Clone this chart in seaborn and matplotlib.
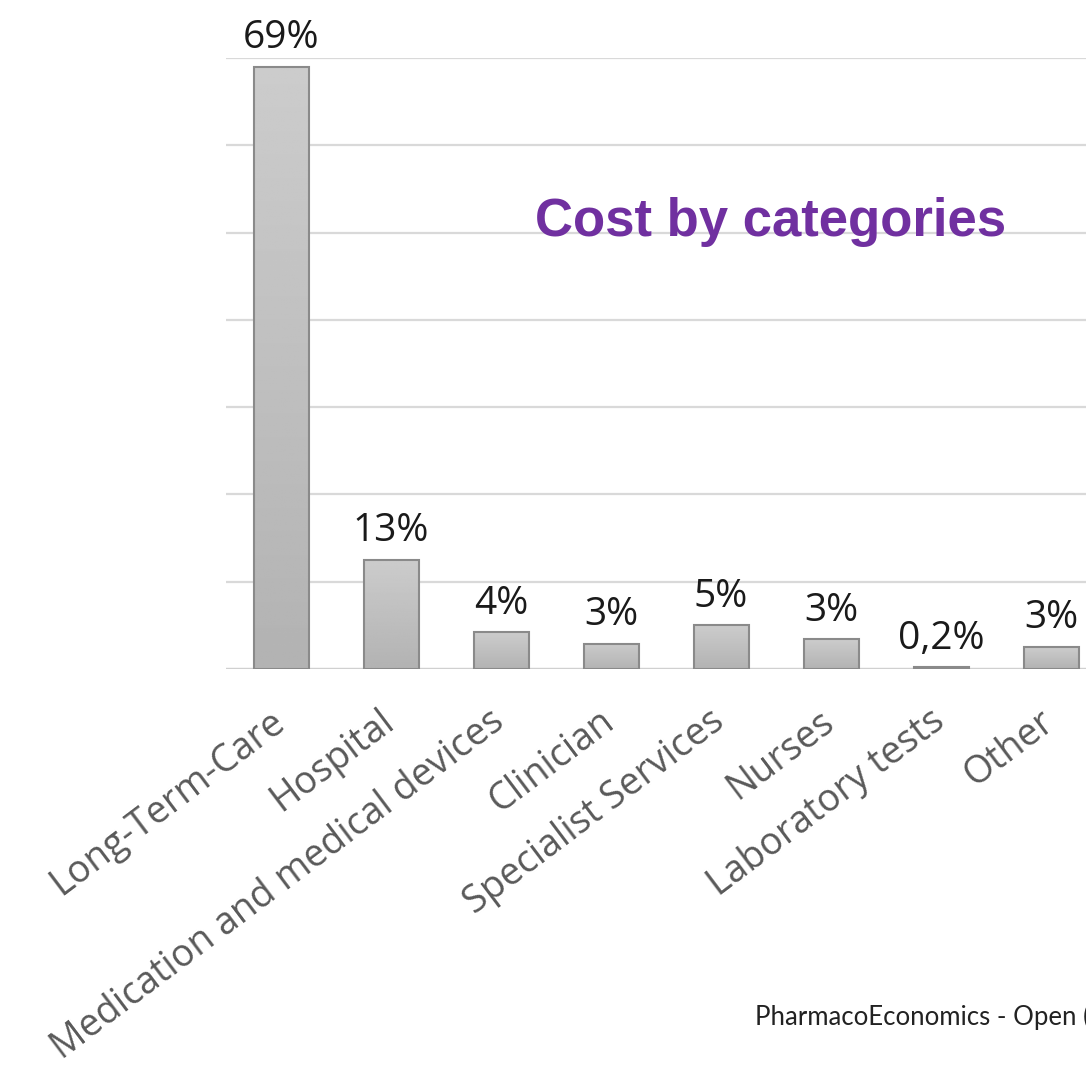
import matplotlib
matplotlib.use("Agg")
import matplotlib.pyplot as plt
import matplotlib.transforms as mtransforms
import seaborn as sns
import pandas as pd
import numpy as np

categories = ["Long-Term-Care", "Hospital", "Medication and medical devices", "Clinician",
              "Specialist Services", "Nurses", "Laboratory tests", "Other"]
values = [69.0, 12.5, 4.2, 2.9, 5.0, 3.4, 0.2, 2.5]
labels = ["69%", "13%", "4%", "3%", "5%", "3%", "0,2%", "3%"]
grid_ticks = [0, 10, 20, 30, 40, 50, 60, 70]

df = pd.DataFrame({"category": categories, "value": values})

sns.set_theme(style="white")
plt.rcParams["font.family"] = ["Open Sans", "DejaVu Sans"]

fig = plt.figure(figsize=(10.86, 10.72), dpi=100)
ax = fig.add_axes([226 / 1086, 1 - 669 / 1072, 880 / 1086, (669 - 58) / 1072])

sns.barplot(data=df, x="category", y="value", color="#c4c4c4", width=0.5,
            edgecolor="#8a8a8a", linewidth=1.5, saturation=1, ax=ax, zorder=3)

# vertical gradient fill inside bars
grad = np.linspace(0.80, 0.70, 256).reshape(-1, 1)
for p in ax.patches:
    x0, y0 = p.get_x(), p.get_y()
    w, h = p.get_width(), p.get_height()
    im = ax.imshow(grad, cmap="gray", vmin=0, vmax=1, aspect="auto",
                   extent=[x0, x0 + w, y0, y0 + h], origin="upper", zorder=3.5)
    im.set_clip_path(p)
    p.set_facecolor("none")
    p.set_zorder(4)

ax.set_xlim(-0.5, 7.5)
ax.set_ylim(0, 70)
ax.set_yticks(grid_ticks)
ax.set_yticklabels([])
ax.tick_params(axis="y", length=0)
ax.tick_params(axis="x", length=0, pad=24)
ax.yaxis.grid(True, color="#d9d9d9", linewidth=1.6, zorder=0)
ax.set_axisbelow(True)
for s in ax.spines.values():
    s.set_visible(False)
ax.axhline(0, color="#d0d0d0", linewidth=1.6, zorder=2)
ax.set_xlabel("")
ax.set_ylabel("")

ax.set_xticks(range(len(categories)))
ax.set_xticklabels(categories, rotation=37, ha="right", rotation_mode="anchor",
                   fontsize=27, color="#595959")
shift = mtransforms.ScaledTranslation(-12 / 100, 0, fig.dpi_scale_trans)
for t in ax.get_xticklabels():
    t.set_transform(t.get_transform() + shift)

for i, (v, lab) in enumerate(zip(values, labels)):
    ax.annotate(lab, (i, v), xytext=(0, 7), textcoords="offset points",
                ha="center", va="bottom", fontsize=28, color="#1a1a1a", clip_on=False)

fig.text(535 / 1086, 1 - 236 / 1072, "Cost by categories", fontsize=38,
         fontweight="bold", color="#7030A0", family=["Liberation Sans", "DejaVu Sans"],
         ha="left", va="baseline")

fig.text(755 / 1086, 1 - 1025 / 1072, "PharmacoEconomics - Open (", fontsize=18.5,
         color="#222222", family=["Lato", "DejaVu Sans"], ha="left", va="baseline")

fig.savefig("out.png", dpi=100)
